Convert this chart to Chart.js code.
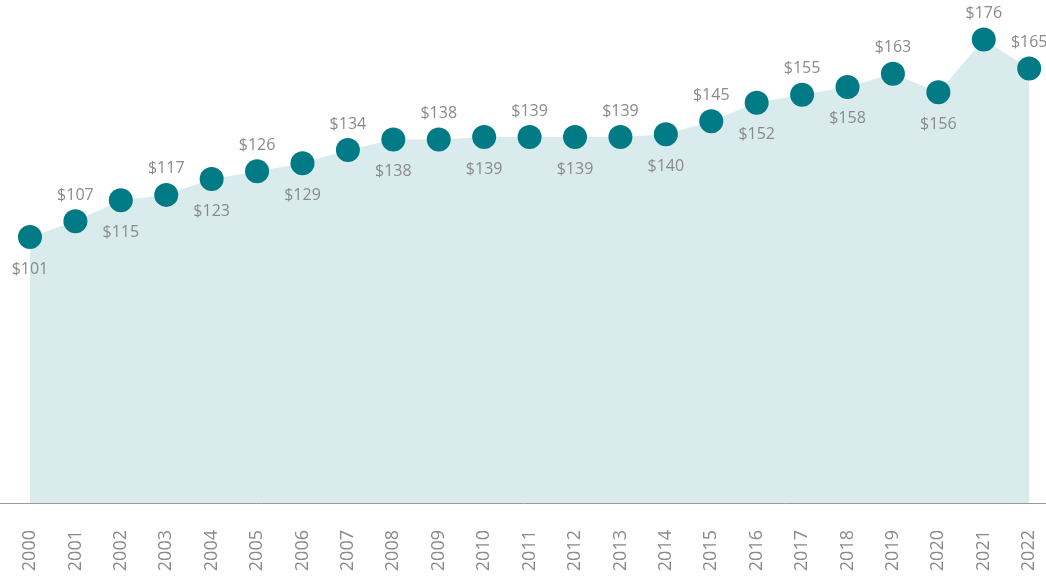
<!DOCTYPE html>
<html>
<head>
<meta charset="utf-8">
<script src="https://cdn.jsdelivr.net/npm/chart.js@4"></script>
<style>
  html, body { margin: 0; padding: 0; background: #fff; }
  #wrap { width: 1046px; height: 576px; }
</style>
</head>
<body>
<div id="wrap"><canvas id="areaChart"></canvas></div>
<script>
const years = ['2000', '2001', '2002', '2003', '2004', '2005', '2006', '2007', '2008', '2009', '2010', '2011',
  '2012', '2013', '2014', '2015', '2016', '2017', '2018', '2019', '2020', '2021', '2022'];
const values = [101, 107, 115, 117, 123, 126, 129, 134, 138, 138, 139, 139,
  139, 139, 140, 145, 152, 155, 158, 163, 156, 176, 165];
// which labels sit above the dot
const labelAbove = [false, true, false, true, false, true, false, true, false, true, false, true,
  false, true, false, true, false, true, false, true, false, true, true];

// value labels drawn next to each point
const valueLabels = {
  id: 'valueLabels',
  afterDatasetsDraw(chart) {
    const ctx = chart.ctx;
    const meta = chart.getDatasetMeta(0);
    ctx.save();
    ctx.font = '16px "Open Sans"';
    ctx.fillStyle = '#8a8a8a';
    ctx.textAlign = 'center';
    ctx.textBaseline = 'middle';
    meta.data.forEach((pt, i) => {
      const y = labelAbove[i] ? pt.y - 26 : pt.y + 32;
      ctx.fillText('$' + values[i], pt.x, y);
    });
    ctx.restore();
  }
};

const ctx = document.getElementById('areaChart').getContext('2d');
new Chart(ctx, {
  type: 'line',
  data: {
    datasets: [{
      data: values.map((v, i) => ({ x: i, y: v })),
      fill: 'origin',
      backgroundColor: '#d9ebed',
      borderWidth: 0,
      borderColor: 'rgba(0,0,0,0)',
      tension: 0,
      pointRadius: 12,
      pointHoverRadius: 12,
      pointBackgroundColor: '#007b85',
      pointBorderWidth: 0,
      clip: false
    }]
  },
  options: {
    responsive: true,
    maintainAspectRatio: false,
    animation: false,
    layout: { padding: 0, autoPadding: false },
    plugins: {
      legend: { display: false },
      tooltip: { enabled: false }
    },
    scales: {
      x: {
        type: 'linear',
        min: -0.66,
        max: 22.37,
        afterBuildTicks: (scale) => {
          scale.ticks = years.map((_, i) => ({ value: i }));
        },
        afterFit: (scale) => {
          scale.paddingLeft = 0;
          scale.paddingRight = 0;
          scale.height = 73;
        },
        grid: { display: false },
        border: { display: true, color: '#9a9a9a', width: 1 },
        ticks: {
          color: '#8a8a8a',
          font: { family: 'Open Sans', size: 18 },
          minRotation: 90,
          maxRotation: 90,
          padding: 19,
          autoSkip: false,
          callback: (v) => years[v]
        }
      },
      y: {
        display: false,
        min: 0,
        max: 191
      }
    }
  },
  plugins: [valueLabels]
});
</script>
</body>
</html>
